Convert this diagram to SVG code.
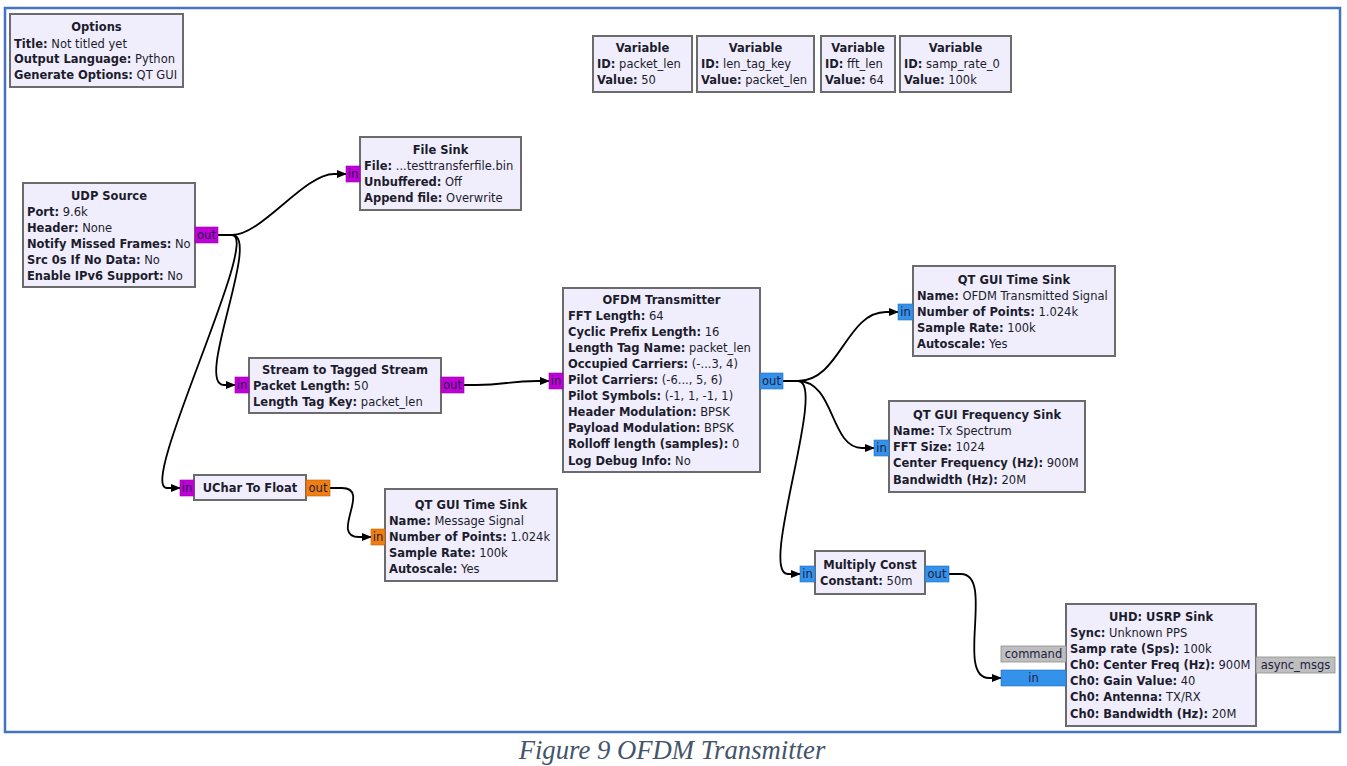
<svg xmlns="http://www.w3.org/2000/svg" width="1347" height="766" viewBox="0 0 1347 766">
<style>
.bg{fill:#ffffff}
.frame{fill:none;stroke:#4472C4;stroke-width:2.5}
.blk{fill:#F0EEFC;stroke:#6b6b6b;stroke-width:2}
text{font-family:"DejaVu Sans",Verdana,sans-serif;font-size:11.5px;fill:#1c1c2c}
.t{font-weight:bold;text-anchor:middle}
.b{font-weight:bold}
.pt{font-size:11.5px;text-anchor:middle;fill:#202040}
.byte{fill:#C000D8;stroke:#9a00b0;stroke-width:0.6}
.flt{fill:#F07E10;stroke:#c06000;stroke-width:0.6}
.cpx{fill:#3592EA;stroke:#1f6fc0;stroke-width:0.6}
.msg{fill:#BEBEBE;stroke:#8e8e8e;stroke-width:0.8}
.con{fill:none;stroke:#000;stroke-width:1.8;marker-end:url(#arr)}
.cap{font-family:"Liberation Serif","Times New Roman",serif;font-style:italic;font-size:26.7px;fill:#44546A;text-anchor:middle}
</style>
<defs>
<marker id="arr" markerUnits="userSpaceOnUse" markerWidth="10" markerHeight="8" refX="9" refY="4" orient="auto">
<path d="M0,0 L10,4 L0,8 Z" fill="#000"/>
</marker>
</defs>
<rect class="bg" x="0" y="0" width="1347" height="766"/>
<rect class="frame" x="5" y="8" width="1335" height="724"/>

<g id="connectors">
<path class="con" d="M218,235 L232,235 C262,235 304,174 334,174 L346,174"/>
<path class="con" d="M232,235 C262,235 194,385 224,385 L235,385"/>
<path class="con" d="M232,235 C262,235 137,488 167,488 L180,488"/>
<path class="con" d="M464,385 L476,385 C506,385 507,381 537,381 L549,381"/>
<path class="con" d="M783,381 L798,381 C840,381 846,312 886,312 L898,312"/>
<path class="con" d="M798,381 C835,381 830,448 862,448 L874,448"/>
<path class="con" d="M798,381 C828,381 758,574 788,574 L800,574"/>
<path class="con" d="M949,574 L961,574 C995,574 955,678 989,678 L1001,678"/>
<path class="con" d="M330,488 L342,488 C372,488 329,537 359,537 L371,537"/>
</g>

<g id="options">
<rect class="blk" x="10" y="14" width="173" height="73"/>
<text class="t" x="96.5" y="31">Options</text>
<text x="14" y="48"><tspan class="b">Title:</tspan> Not titled yet</text>
<text x="14" y="63"><tspan class="b">Output Language:</tspan> Python</text>
<text x="14" y="79"><tspan class="b">Generate Options:</tspan> QT GUI</text>
</g>

<g id="var_packet_len">
<rect class="blk" x="593" y="36" width="99" height="56"/>
<text class="t" x="642.5" y="52">Variable</text>
<text x="597" y="68"><tspan class="b">ID:</tspan> packet_len</text>
<text x="597" y="84"><tspan class="b">Value:</tspan> 50</text>
</g>
<g id="var_len_tag_key">
<rect class="blk" x="697" y="36" width="117" height="56"/>
<text class="t" x="755.5" y="52">Variable</text>
<text x="701" y="68"><tspan class="b">ID:</tspan> len_tag_key</text>
<text x="701" y="84"><tspan class="b">Value:</tspan> packet_len</text>
</g>
<g id="var_fft_len">
<rect class="blk" x="821" y="36" width="74" height="56"/>
<text class="t" x="858" y="52">Variable</text>
<text x="825" y="68"><tspan class="b">ID:</tspan> fft_len</text>
<text x="825" y="84"><tspan class="b">Value:</tspan> 64</text>
</g>
<g id="var_samp_rate_0">
<rect class="blk" x="900" y="36" width="111" height="56"/>
<text class="t" x="955.5" y="52">Variable</text>
<text x="904" y="68"><tspan class="b">ID:</tspan> samp_rate_0</text>
<text x="904" y="84"><tspan class="b">Value:</tspan> 100k</text>
</g>

<g id="file_sink">
<rect class="blk" x="360" y="137" width="161" height="73"/>
<text class="t" x="440.5" y="154">File Sink</text>
<text x="364" y="170"><tspan class="b">File:</tspan> ...testtransferfile.bin</text>
<text x="364" y="186"><tspan class="b">Unbuffered:</tspan> Off</text>
<text x="364" y="202"><tspan class="b">Append file:</tspan> Overwrite</text>
<rect class="byte" x="346" y="166" width="14" height="16"/>
<text class="pt" x="353" y="178">in</text>
</g>

<g id="udp_source">
<rect class="blk" x="23" y="183" width="172" height="104"/>
<text class="t" x="109" y="200">UDP Source</text>
<text x="27" y="216"><tspan class="b">Port:</tspan> 9.6k</text>
<text x="27" y="232"><tspan class="b">Header:</tspan> None</text>
<text x="27" y="248"><tspan class="b">Notify Missed Frames:</tspan> No</text>
<text x="27" y="264"><tspan class="b">Src 0s If No Data:</tspan> No</text>
<text x="27" y="280"><tspan class="b">Enable IPv6 Support:</tspan> No</text>
<rect class="byte" x="195" y="227" width="23" height="16"/>
<text class="pt" x="206.5" y="239">out</text>
</g>

<g id="stream_to_tagged_stream">
<rect class="blk" x="249" y="358" width="192" height="55"/>
<text class="t" x="345" y="374">Stream to Tagged Stream</text>
<text x="253" y="390"><tspan class="b">Packet Length:</tspan> 50</text>
<text x="253" y="406"><tspan class="b">Length Tag Key:</tspan> packet_len</text>
<rect class="byte" x="235" y="377" width="14" height="16"/>
<text class="pt" x="242" y="389">in</text>
<rect class="byte" x="441" y="377" width="23" height="16"/>
<text class="pt" x="452.5" y="389">out</text>
</g>

<g id="ofdm_transmitter">
<rect class="blk" x="563" y="288" width="197" height="184"/>
<text class="t" x="661.5" y="304">OFDM Transmitter</text>
<text x="568" y="320"><tspan class="b">FFT Length:</tspan> 64</text>
<text x="568" y="336"><tspan class="b">Cyclic Prefix Length:</tspan> 16</text>
<text x="568" y="352"><tspan class="b">Length Tag Name:</tspan> packet_len</text>
<text x="568" y="368"><tspan class="b">Occupied Carriers:</tspan> (-...3, 4)</text>
<text x="568" y="384"><tspan class="b">Pilot Carriers:</tspan> (-6..., 5, 6)</text>
<text x="568" y="400"><tspan class="b">Pilot Symbols:</tspan> (-1, 1, -1, 1)</text>
<text x="568" y="416"><tspan class="b">Header Modulation:</tspan> BPSK</text>
<text x="568" y="432"><tspan class="b">Payload Modulation:</tspan> BPSK</text>
<text x="568" y="448"><tspan class="b">Rolloff length (samples):</tspan> 0</text>
<text x="568" y="465"><tspan class="b">Log Debug Info:</tspan> No</text>
<rect class="byte" x="549" y="373" width="14" height="16"/>
<text class="pt" x="556" y="385">in</text>
<rect class="cpx" x="760" y="373" width="23" height="16"/>
<text class="pt" x="771.5" y="385">out</text>
</g>

<g id="uchar_to_float">
<rect class="blk" x="194" y="475" width="112" height="25"/>
<text class="t" x="250" y="492">UChar To Float</text>
<rect class="byte" x="180" y="480" width="14" height="16"/>
<text class="pt" x="187" y="492">in</text>
<rect class="flt" x="306" y="480" width="24" height="16"/>
<text class="pt" x="318" y="492">out</text>
</g>

<g id="qt_time_sink_msg">
<rect class="blk" x="385" y="489" width="172" height="92"/>
<text class="t" x="471" y="509">QT GUI Time Sink</text>
<text x="389" y="525"><tspan class="b">Name:</tspan> Message Signal</text>
<text x="389" y="541"><tspan class="b">Number of Points:</tspan> 1.024k</text>
<text x="389" y="557"><tspan class="b">Sample Rate:</tspan> 100k</text>
<text x="389" y="573"><tspan class="b">Autoscale:</tspan> Yes</text>
<rect class="flt" x="371" y="529" width="14" height="16"/>
<text class="pt" x="378" y="541">in</text>
</g>

<g id="qt_time_sink_ofdm">
<rect class="blk" x="913" y="266" width="202" height="90"/>
<text class="t" x="1014" y="284">QT GUI Time Sink</text>
<text x="917" y="300"><tspan class="b">Name:</tspan> OFDM Transmitted Signal</text>
<text x="917" y="316"><tspan class="b">Number of Points:</tspan> 1.024k</text>
<text x="917" y="332"><tspan class="b">Sample Rate:</tspan> 100k</text>
<text x="917" y="348"><tspan class="b">Autoscale:</tspan> Yes</text>
<rect class="cpx" x="898" y="304" width="15" height="16"/>
<text class="pt" x="905.5" y="316">in</text>
</g>

<g id="qt_freq_sink">
<rect class="blk" x="889" y="401" width="196" height="91"/>
<text class="t" x="987" y="419">QT GUI Frequency Sink</text>
<text x="893" y="435"><tspan class="b">Name:</tspan> Tx Spectrum</text>
<text x="893" y="451"><tspan class="b">FFT Size:</tspan> 1024</text>
<text x="893" y="467"><tspan class="b">Center Frequency (Hz):</tspan> 900M</text>
<text x="893" y="484"><tspan class="b">Bandwidth (Hz):</tspan> 20M</text>
<rect class="cpx" x="874" y="440" width="15" height="16"/>
<text class="pt" x="881.5" y="452">in</text>
</g>

<g id="multiply_const">
<rect class="blk" x="815" y="551" width="110" height="43"/>
<text class="t" x="870" y="569">Multiply Const</text>
<text x="820" y="585"><tspan class="b">Constant:</tspan> 50m</text>
<rect class="cpx" x="800" y="566" width="15" height="16"/>
<text class="pt" x="807.5" y="578">in</text>
<rect class="cpx" x="925" y="566" width="24" height="16"/>
<text class="pt" x="937" y="578">out</text>
</g>

<g id="usrp_sink">
<rect class="blk" x="1066" y="604" width="190" height="122"/>
<text class="t" x="1161" y="621">UHD: USRP Sink</text>
<text x="1070" y="637"><tspan class="b">Sync:</tspan> Unknown PPS</text>
<text x="1070" y="653"><tspan class="b">Samp rate (Sps):</tspan> 100k</text>
<text x="1070" y="669"><tspan class="b">Ch0: Center Freq (Hz):</tspan> 900M</text>
<text x="1070" y="685"><tspan class="b">Ch0: Gain Value:</tspan> 40</text>
<text x="1070" y="701"><tspan class="b">Ch0: Antenna:</tspan> TX/RX</text>
<text x="1070" y="718"><tspan class="b">Ch0: Bandwidth (Hz):</tspan> 20M</text>
<rect class="msg" x="1001" y="646" width="65" height="16"/>
<text class="pt" x="1033.5" y="658">command</text>
<rect class="cpx" x="1001" y="670" width="65" height="16"/>
<text class="pt" x="1033.5" y="682">in</text>
<rect class="msg" x="1256" y="657" width="79" height="16"/>
<text class="pt" x="1295.5" y="669">async_msgs</text>
</g>

<text class="cap" x="672" y="759">Figure 9 OFDM Transmitter</text>
</svg>
